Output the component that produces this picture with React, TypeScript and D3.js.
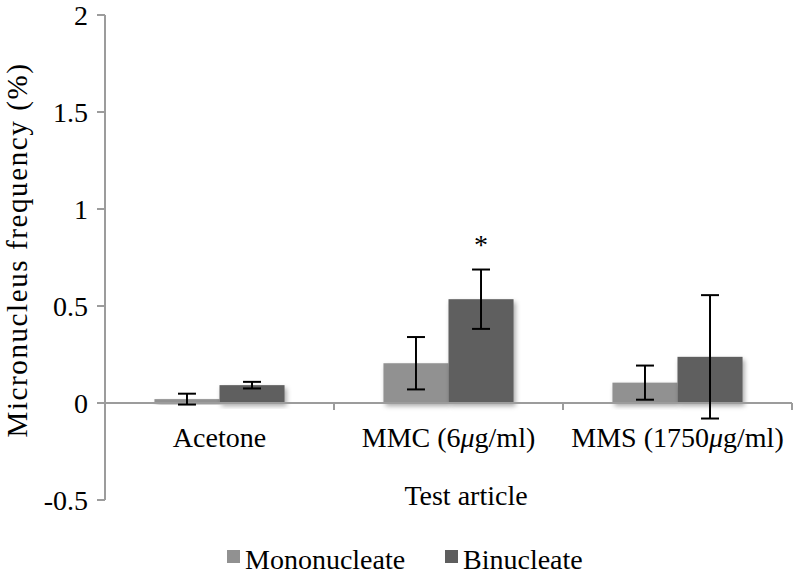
import React from "react";
import * as d3 from "d3";

const categories = ["Acetone", "MMC (6\u00b5g/ml)", "MMS (1750\u00b5g/ml)"];
const series = ["Mononucleate", "Binucleate"];
const monoValues = [0.02, 0.205, 0.105];
const monoErrors = [0.028, 0.135, 0.088];
const binValues = [0.092, 0.535, 0.238];
const binErrors = [0.017, 0.153, 0.318];
const yTicks = [-0.5, 0, 0.5, 1, 1.5, 2];
const significant = [false, true, false];
const colors = ["#919191", "#5e5e5e"];

const W = 794;
const H = 574;
const FONT = "'Liberation Serif', 'Times New Roman', serif";
const textStyle = { fontFamily: FONT };

export default function App() {
  const x = d3.scaleBand<string>().domain(categories).range([105, 792]).paddingInner(0).paddingOuter(0);
  const xi = d3.scaleBand<string>().domain(series).range([0, x.bandwidth()]).paddingInner(0).paddingOuter(0.76);
  const y = d3.scaleLinear().domain([-0.5, 2]).range([500, 15]);
  const values = [monoValues, binValues];
  const errors = [monoErrors, binErrors];
  const axisColor = "#9c9c9c";
  const y0 = y(0);
  const bounds = [...categories.map((c) => x(c) as number), 792];

  return (
    <svg width={W} height={H} style={{ position: "absolute", left: 0, top: 0 }}>
      <defs>
        <filter id="shadow" x="-20%" y="-20%" width="150%" height="150%">
          <feDropShadow dx="2" dy="3" stdDeviation="2.5" floodColor="#000" floodOpacity="0.35" />
        </filter>
      </defs>
      <rect width={W} height={H} fill="#fff" />
      <line x1={105} x2={105} y1={y(2)} y2={y(-0.5)} stroke={axisColor} strokeWidth={2} />
      {yTicks.map((t) => (
        <g key={t}>
          <line x1={97} x2={105} y1={y(t)} y2={y(t)} stroke={axisColor} strokeWidth={2} />
          <text x={88} y={y(t)} dy="0.34em" textAnchor="end" fontSize={28} fill="#000" style={textStyle}>
            {t}
          </text>
        </g>
      ))}
      {categories.map((c, ci) =>
        series.map((s, si) => {
          const v = values[si][ci];
          const bx = (x(c) as number) + (xi(s) as number);
          return (
            <rect
              key={c + s}
              x={bx}
              y={Math.min(y(v), y0)}
              width={xi.bandwidth()}
              height={Math.abs(y0 - y(v))}
              fill={colors[si]}
              filter="url(#shadow)"
            />
          );
        })
      )}
      <line x1={105} x2={792} y1={y0} y2={y0} stroke={axisColor} strokeWidth={2} />
      {bounds.slice(1).map((b, i) => (
        <line key={i} x1={b} x2={b} y1={y0} y2={y0 + 7} stroke={axisColor} strokeWidth={2} />
      ))}
      {categories.map((c, ci) =>
        series.map((s, si) => {
          const v = values[si][ci];
          const e = errors[si][ci];
          const cx = (x(c) as number) + (xi(s) as number) + xi.bandwidth() / 2;
          const top = y(v + e);
          const bot = y(v - e);
          return (
            <g key={"e" + c + s} stroke="#000" strokeWidth={2}>
              <line x1={cx} x2={cx} y1={top} y2={bot} />
              <line x1={cx - 9} x2={cx + 9} y1={top} y2={top} />
              <line x1={cx - 9} x2={cx + 9} y1={bot} y2={bot} />
            </g>
          );
        })
      )}
      {categories.map((c, ci) =>
        significant[ci] ? (
          <text
            key={"s" + c}
            x={(x(c) as number) + (xi("Binucleate") as number) + xi.bandwidth() / 2}
            y={y(binValues[ci] + binErrors[ci]) - 16}
            textAnchor="middle"
            fontSize={28}
            fill="#000"
            style={textStyle}
          >
            *
          </text>
        ) : null
      )}
      {categories.map((c) => (
        <text
          key={"l" + c}
          x={(x(c) as number) + x.bandwidth() / 2}
          y={447}
          textAnchor="middle"
          fontSize={28}
          fill="#000"
          style={textStyle}
        >
          {c.split("\u00b5")[0]}
          <tspan fontStyle="italic">{c.includes("\u00b5") ? "\u03bc" : ""}</tspan>
          {c.includes("\u00b5") ? c.split("\u00b5")[1] : ""}
        </text>
      ))}
      <text x={466} y={505} textAnchor="middle" fontSize={28} fill="#000" style={textStyle}>
        Test article
      </text>
      <text
        transform={`translate(27,250) rotate(-90)`}
        textAnchor="middle"
        fontSize={29}
        letterSpacing={1.6}
        fill="#000"
        style={textStyle}
      >
        Micronucleus frequency (%)
      </text>
      {series.map((s, si) => {
        const lx = [227, 445][si];
        return (
          <g key={"lg" + s}>
            <rect x={lx} y={550} width={13} height={13} fill={colors[si]} />
            <text x={lx + 18} y={569} fontSize={28} fill="#000" style={textStyle}>
              {s}
            </text>
          </g>
        );
      })}
    </svg>
  );
}
